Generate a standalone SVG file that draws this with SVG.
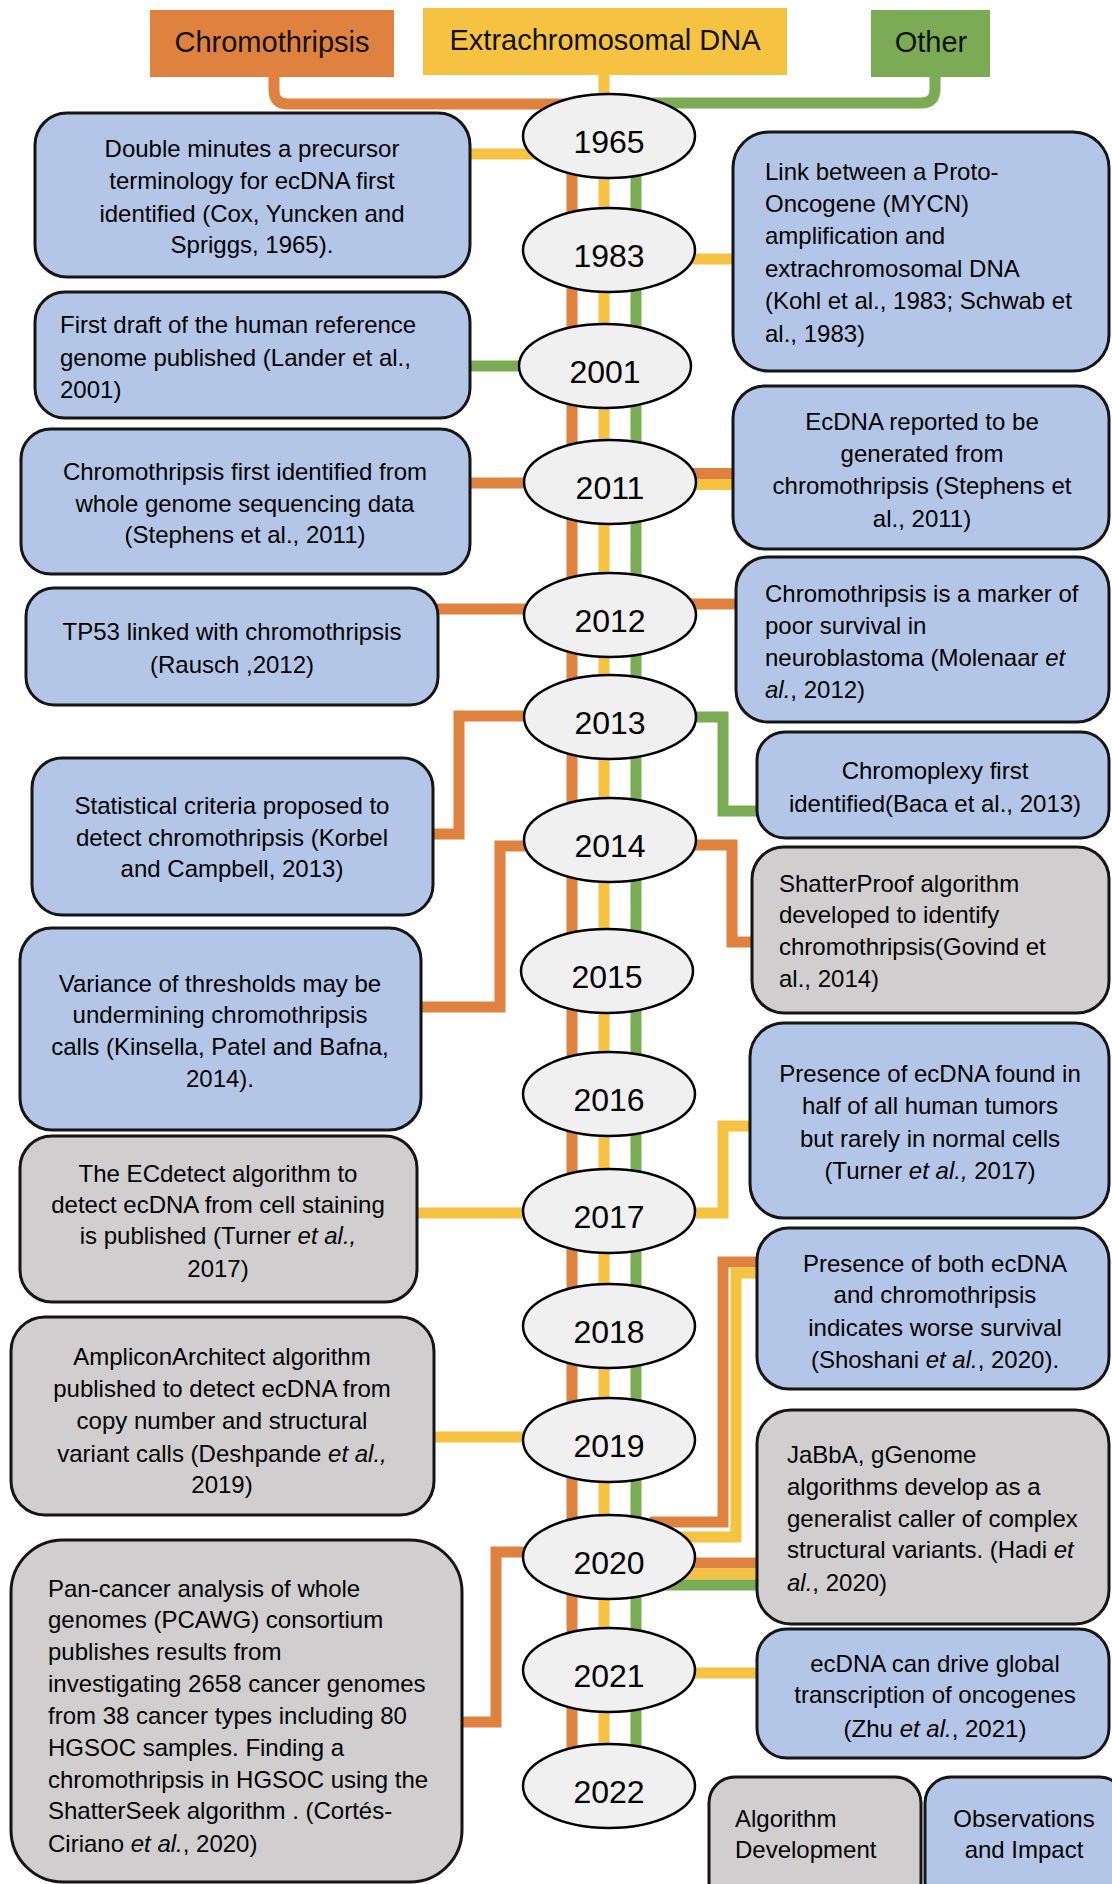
<svg xmlns="http://www.w3.org/2000/svg" width="1112" height="1884" viewBox="0 0 1112 1884">
  <style>
    .t { font-family: "Liberation Sans", Arial, sans-serif; font-size: 24px; fill: #000; }
    .c { text-anchor: middle; }
    .i { font-style: italic; }
    .hd { font-family: "Liberation Sans", Arial, sans-serif; font-size: 29px; fill: #111; text-anchor: middle; }
    .yr { font-family: "Liberation Sans", Arial, sans-serif; font-size: 32px; fill: #000; text-anchor: middle; }
    .blue { fill: #B4C6E7; stroke: #151515; stroke-width: 3; }
    .gray { fill: #D0CECE; stroke: #151515; stroke-width: 3; }
    .yc { fill: #F0F0F0; stroke: #000; stroke-width: 2.5; }
    .o, .y, .g { fill: none; stroke-width: 11; stroke-linejoin: miter; }
    .o { stroke: #E0823F; }
    .y { stroke: #F5C242; }
    .g { stroke: #7CAB55; }
  </style>

  <!-- category headers -->
  <g id="hdr-chromothripsis">
    <rect x="150" y="10" width="244" height="67" fill="#E0823F"/>
    <text class="hd" x="272" y="52">Chromothripsis</text>
  </g>
  <g id="hdr-ecdna">
    <rect x="423" y="8" width="364" height="67" fill="#F5C242"/>
    <text class="hd" x="605" y="50">Extrachromosomal DNA</text>
  </g>
  <g id="hdr-other">
    <rect x="871" y="10" width="119" height="67" fill="#7CAB55"/>
    <text class="hd" x="931" y="52">Other</text>
  </g>

  <!-- connectors -->
  <g id="connectors">
    <path class="o" d="M274,76 V90 Q274,104 288,104 H590"/>
    <path class="y" d="M604,74 V110"/>
    <path class="g" d="M935,76 V89 Q935,103 921,103 H630"/>

    <path class="o" d="M572,136 V1786"/>
    <path class="y" d="M604,136 V1786"/>
    <path class="g" d="M636,136 V1786"/>

    <path class="y" d="M460,154 H560"/>
    <path class="y" d="M660,259 H745"/>
    <path class="g" d="M460,366 H560"/>
    <path class="o" d="M460,483 H560"/>
    <path class="o" d="M660,473.5 H745"/>
    <path class="y" d="M660,484.5 H745"/>
    <path class="o" d="M430,609 H560"/>
    <path class="o" d="M660,604 H745"/>
    <path class="o" d="M560,716 H459 V834 H425"/>
    <path class="g" d="M660,717 H723 V811 H765"/>
    <path class="o" d="M560,846 H500 V1007 H415"/>
    <path class="o" d="M660,845 H732 V942 H760"/>
    <path class="y" d="M410,1213 H560"/>
    <path class="y" d="M660,1213 H723 V1126 H760"/>
    <path class="o" d="M650,1522 H723 V1262 H765"/>
    <path class="y" d="M660,1537 H736 V1273 H765"/>
    <path class="y" d="M425,1437 H560"/>
    <path class="o" d="M560,1552 H496 V1722 H455"/>
    <path class="o" d="M660,1563 H765"/>
    <path class="y" d="M660,1574 H765"/>
    <path class="g" d="M660,1585 H765"/>
    <path class="y" d="M660,1673 H765"/>
  </g>

  <!-- left column events -->
  <g id="ev-double-minutes">
    <rect class="blue" x="35" y="113" width="435" height="164" rx="32"/>
    <text class="t c"><tspan x="252" y="157">Double minutes a precursor</tspan><tspan x="252" y="189">terminology for ecDNA first</tspan><tspan x="252" y="222">identified (Cox, Yuncken and</tspan><tspan x="252" y="253">Spriggs, 1965).</tspan></text>
  </g>
  <g id="ev-human-genome">
    <rect class="blue" x="35" y="292" width="435" height="126" rx="30"/>
    <text class="t"><tspan x="60" y="333">First draft of the human reference</tspan><tspan x="60" y="366">genome published (Lander et al.,</tspan><tspan x="60" y="398">2001)</tspan></text>
  </g>
  <g id="ev-chromothripsis-wgs">
    <rect class="blue" x="21" y="429" width="449" height="145" rx="30"/>
    <text class="t c"><tspan x="245" y="480">Chromothripsis first identified from</tspan><tspan x="245" y="512">whole genome sequencing data</tspan><tspan x="245" y="543">(Stephens et al., 2011)</tspan></text>
  </g>
  <g id="ev-tp53">
    <rect class="blue" x="26" y="588" width="412" height="117" rx="28"/>
    <text class="t c"><tspan x="232" y="640">TP53 linked with chromothripsis</tspan><tspan x="232" y="673">(Rausch ,2012)</tspan></text>
  </g>
  <g id="ev-statistical-criteria">
    <rect class="blue" x="32" y="758" width="401" height="157" rx="30"/>
    <text class="t c"><tspan x="232" y="814">Statistical criteria proposed to</tspan><tspan x="232" y="846">detect chromothripsis (Korbel</tspan><tspan x="232" y="877">and Campbell, 2013)</tspan></text>
  </g>
  <g id="ev-thresholds">
    <rect class="blue" x="20" y="928" width="401" height="202" rx="32"/>
    <text class="t c"><tspan x="220" y="992">Variance of thresholds may be</tspan><tspan x="220" y="1023">undermining chromothripsis</tspan><tspan x="220" y="1055">calls (Kinsella, Patel and Bafna,</tspan><tspan x="220" y="1087">2014).</tspan></text>
  </g>
  <g id="ev-ecdetect">
    <rect class="gray" x="20" y="1136" width="397" height="166" rx="32"/>
    <text class="t c"><tspan x="218" y="1182">The ECdetect algorithm to</tspan><tspan x="218" y="1213">detect ecDNA from cell staining</tspan><tspan x="218" y="1244">is published (Turner <tspan class="i">et al.,</tspan></tspan><tspan x="218" y="1277">2017)</tspan></text>
  </g>
  <g id="ev-ampliconarchitect">
    <rect class="gray" x="11" y="1317" width="423" height="198" rx="34"/>
    <text class="t c"><tspan x="222" y="1365">AmpliconArchitect algorithm</tspan><tspan x="222" y="1397">published to detect ecDNA from</tspan><tspan x="222" y="1429">copy number and structural</tspan><tspan x="222" y="1462">variant calls (Deshpande <tspan class="i">et al.,</tspan></tspan><tspan x="222" y="1493">2019)</tspan></text>
  </g>
  <g id="ev-pcawg">
    <rect class="gray" x="11" y="1540" width="451" height="342" rx="52"/>
    <text class="t"><tspan x="48" y="1597">Pan-cancer analysis of whole</tspan><tspan x="48" y="1628">genomes (PCAWG) consortium</tspan><tspan x="48" y="1660">publishes results from</tspan><tspan x="48" y="1692">investigating 2658 cancer genomes</tspan><tspan x="48" y="1724">from 38 cancer types including 80</tspan><tspan x="48" y="1756">HGSOC samples. Finding a</tspan><tspan x="48" y="1788">chromothripsis in HGSOC using the</tspan><tspan x="48" y="1819">ShatterSeek algorithm . (Cortés-</tspan><tspan x="48" y="1852">Ciriano <tspan class="i">et al.</tspan>, 2020)</tspan></text>
  </g>

  <!-- right column events -->
  <g id="ev-mycn">
    <rect class="blue" x="733" y="132" width="376" height="239" rx="36"/>
    <text class="t"><tspan x="765" y="180">Link between a Proto-</tspan><tspan x="765" y="212">Oncogene (MYCN)</tspan><tspan x="765" y="244">amplification and</tspan><tspan x="765" y="277">extrachromosomal DNA</tspan><tspan x="765" y="309">(Kohl et al., 1983; Schwab et</tspan><tspan x="765" y="342">al., 1983)</tspan></text>
  </g>
  <g id="ev-ecdna-from-chromothripsis">
    <rect class="blue" x="733" y="386" width="376" height="163" rx="32"/>
    <text class="t c"><tspan x="922" y="430">EcDNA reported to be</tspan><tspan x="922" y="462">generated from</tspan><tspan x="922" y="494">chromothripsis (Stephens et</tspan><tspan x="922" y="527">al., 2011)</tspan></text>
  </g>
  <g id="ev-neuroblastoma">
    <rect class="blue" x="736" y="557" width="373" height="165" rx="32"/>
    <text class="t"><tspan x="765" y="602">Chromothripsis is a marker of</tspan><tspan x="765" y="634">poor survival in</tspan><tspan x="765" y="666">neuroblastoma (Molenaar <tspan class="i">et</tspan></tspan><tspan x="765" y="698"><tspan class="i">al.</tspan>, 2012)</tspan></text>
  </g>
  <g id="ev-chromoplexy">
    <rect class="blue" x="757" y="732" width="352" height="106" rx="28"/>
    <text class="t c"><tspan x="935" y="779">Chromoplexy first</tspan><tspan x="935" y="812">identified(Baca et al., 2013)</tspan></text>
  </g>
  <g id="ev-shatterproof">
    <rect class="gray" x="752" y="847" width="357" height="166" rx="32"/>
    <text class="t"><tspan x="779" y="892">ShatterProof algorithm</tspan><tspan x="779" y="923">developed to identify</tspan><tspan x="779" y="955">chromothripsis(Govind et</tspan><tspan x="779" y="987">al., 2014)</tspan></text>
  </g>
  <g id="ev-ecdna-tumors">
    <rect class="blue" x="750" y="1023" width="359" height="195" rx="34"/>
    <text class="t c"><tspan x="930" y="1082">Presence of ecDNA found in</tspan><tspan x="930" y="1114">half of all human tumors</tspan><tspan x="930" y="1147">but rarely in normal cells</tspan><tspan x="930" y="1179">(Turner <tspan class="i">et al.,</tspan> 2017)</tspan></text>
  </g>
  <g id="ev-worse-survival">
    <rect class="blue" x="757" y="1228" width="352" height="161" rx="32"/>
    <text class="t c"><tspan x="935" y="1272">Presence of both ecDNA</tspan><tspan x="935" y="1303">and chromothripsis</tspan><tspan x="935" y="1336">indicates worse survival</tspan><tspan x="935" y="1368">(Shoshani <tspan class="i">et al.</tspan>, 2020).</tspan></text>
  </g>
  <g id="ev-jabba">
    <rect class="gray" x="757" y="1410" width="352" height="214" rx="34"/>
    <text class="t"><tspan x="787" y="1463">JaBbA, gGenome</tspan><tspan x="787" y="1495">algorithms develop as a</tspan><tspan x="787" y="1527">generalist caller of complex</tspan><tspan x="787" y="1558">structural variants. (Hadi <tspan class="i">et</tspan></tspan><tspan x="787" y="1591"><tspan class="i">al.</tspan>, 2020)</tspan></text>
  </g>
  <g id="ev-transcription">
    <rect class="blue" x="757" y="1629" width="352" height="129" rx="30"/>
    <text class="t c"><tspan x="935" y="1672">ecDNA can drive global</tspan><tspan x="935" y="1703">transcription of oncogenes</tspan><tspan x="935" y="1737">(Zhu <tspan class="i">et al.</tspan>, 2021)</tspan></text>
  </g>

  <!-- legend -->
  <g id="legend-algorithm">
    <rect class="gray" x="709" y="1777" width="212" height="130" rx="26"/>
    <text class="t"><tspan x="735" y="1827">Algorithm</tspan><tspan x="735" y="1858">Development</tspan></text>
  </g>
  <g id="legend-observations">
    <rect class="blue" x="925" y="1777" width="200" height="130" rx="26"/>
    <text class="t c"><tspan x="1024" y="1827">Observations</tspan><tspan x="1024" y="1858">and Impact</tspan></text>
  </g>

  <!-- year markers -->
  <g id="y1965"><ellipse class="yc" cx="609" cy="136" rx="86" ry="42"/><text class="yr" x="609" y="153">1965</text></g>
  <g id="y1983"><ellipse class="yc" cx="609" cy="250" rx="86" ry="42"/><text class="yr" x="609" y="267">1983</text></g>
  <g id="y2001"><ellipse class="yc" cx="605" cy="366" rx="86" ry="42"/><text class="yr" x="605" y="383">2001</text></g>
  <g id="y2011"><ellipse class="yc" cx="610" cy="482" rx="86" ry="42"/><text class="yr" x="610" y="499">2011</text></g>
  <g id="y2012"><ellipse class="yc" cx="610" cy="615" rx="86" ry="42"/><text class="yr" x="610" y="632">2012</text></g>
  <g id="y2013"><ellipse class="yc" cx="610" cy="717" rx="86" ry="42"/><text class="yr" x="610" y="734">2013</text></g>
  <g id="y2014"><ellipse class="yc" cx="610" cy="840" rx="86" ry="42"/><text class="yr" x="610" y="857">2014</text></g>
  <g id="y2015"><ellipse class="yc" cx="607" cy="971" rx="86" ry="42"/><text class="yr" x="607" y="988">2015</text></g>
  <g id="y2016"><ellipse class="yc" cx="609" cy="1094" rx="86" ry="42"/><text class="yr" x="609" y="1111">2016</text></g>
  <g id="y2017"><ellipse class="yc" cx="609" cy="1211" rx="86" ry="42"/><text class="yr" x="609" y="1228">2017</text></g>
  <g id="y2018"><ellipse class="yc" cx="609" cy="1326" rx="86" ry="42"/><text class="yr" x="609" y="1343">2018</text></g>
  <g id="y2019"><ellipse class="yc" cx="609" cy="1440" rx="86" ry="42"/><text class="yr" x="609" y="1457">2019</text></g>
  <g id="y2020"><ellipse class="yc" cx="609" cy="1557" rx="86" ry="42"/><text class="yr" x="609" y="1574">2020</text></g>
  <g id="y2021"><ellipse class="yc" cx="609" cy="1670" rx="86" ry="42"/><text class="yr" x="609" y="1687">2021</text></g>
  <g id="y2022"><ellipse class="yc" cx="609" cy="1786" rx="86" ry="42"/><text class="yr" x="609" y="1803">2022</text></g>
</svg>
